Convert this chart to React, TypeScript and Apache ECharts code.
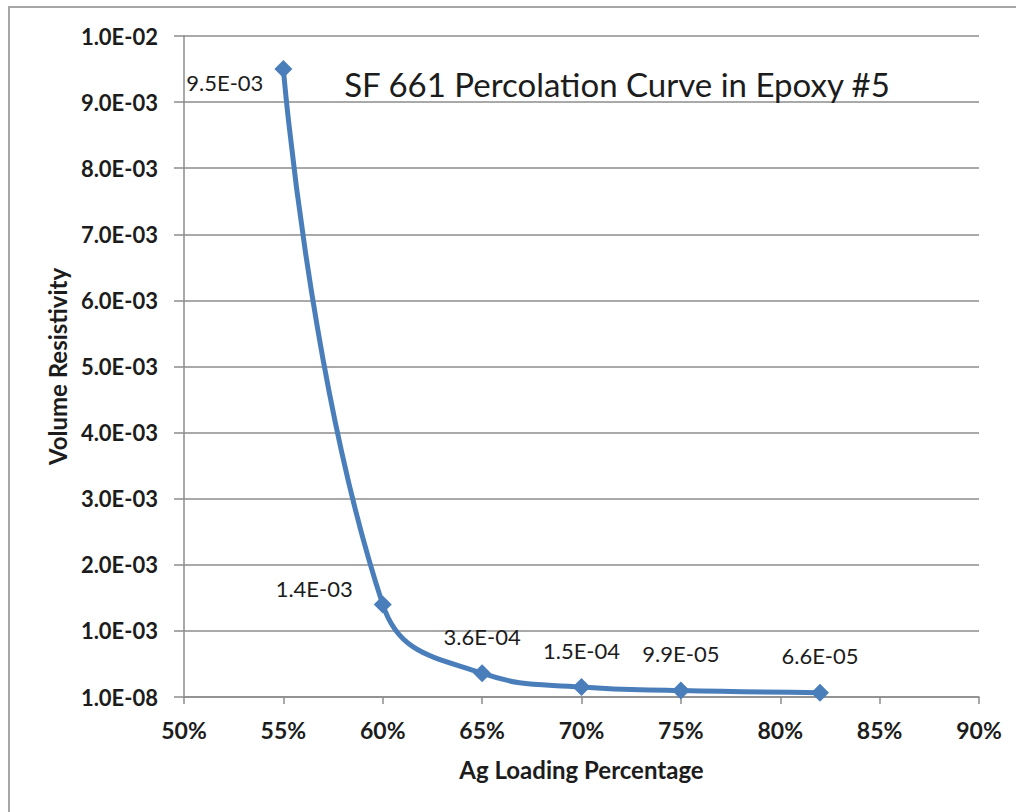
import React, { useEffect, useRef } from "react";
import * as echarts from "echarts";

const loadingPct = [55, 60, 65, 70, 75, 82];
const resistivity = [9.5e-3, 1.4e-3, 3.6e-4, 1.5e-4, 9.9e-5, 6.6e-5];
const pointLabels = ["9.5E-03", "1.4E-03", "3.6E-04", "1.5E-04", "9.9E-05", "6.6E-05"];
const yTickLabels = [
  "1.0E-08", "1.0E-03", "2.0E-03", "3.0E-03", "4.0E-03", "5.0E-03",
  "6.0E-03", "7.0E-03", "8.0E-03", "9.0E-03", "1.0E-02",
];
const titleText = "SF 661 Percolation Curve in Epoxy #5";
const xName = "Ag Loading Percentage";
const yName = "Volume Resistivity";

const FONT = "Lato, 'Open Sans', sans-serif";
const TXT = "#1c1c1c";

export default function App() {
  const ref = useRef<HTMLDivElement>(null);
  useEffect(() => {
    if (!ref.current) return;
    const chart = echarts.init(ref.current, null, { renderer: "svg" });
    const labelCfg = (i: number) => {
      if (i === 0) return { position: "left", distance: 11, offset: [0, 13] };
      if (i === 1) return { position: "left", distance: 21, offset: [0, -16] };
      return { position: "top", distance: 17 };
    };
    chart.setOption({
      animation: false,
      backgroundColor: "#fff",
      textStyle: { fontFamily: FONT },
      title: {
        text: titleText,
        left: 612,
        top: 62,
        textAlign: "center",
        textStyle: { fontFamily: FONT, fontSize: 33, fontWeight: "normal", color: TXT },
      },
      graphic: [
        {
          type: "polyline",
          shape: { points: [[9, 900], [9, 7], [1100, 7]] },
          style: { stroke: "#a6a6a6", lineWidth: 2, fill: "none" },
          silent: true,
        },
      ],
      grid: { left: 184, top: 36, right: 37, bottom: 115, containLabel: false },
      xAxis: {
        type: "value",
        min: 50,
        max: 90,
        interval: 5,
        name: xName,
        nameLocation: "middle",
        nameGap: 60,
        nameTextStyle: { fontFamily: FONT, fontSize: 24, fontWeight: "bold", color: TXT },
        axisLine: { show: true, lineStyle: { color: "#8c8c8c", width: 1.5 } },
        axisTick: { show: true, length: 7, inside: false, lineStyle: { color: "#8c8c8c", width: 1.5 } },
        axisLabel: {
          formatter: (v: number) => `${v}%`,
          fontFamily: FONT,
          fontSize: 23,
          fontWeight: "bold",
          color: TXT,
          margin: 21,
        },
        splitLine: { show: false },
      },
      yAxis: {
        type: "value",
        min: 0,
        max: 0.01,
        interval: 0.001,
        name: yName,
        nameLocation: "middle",
        nameGap: 114,
        nameTextStyle: { fontFamily: FONT, fontSize: 24, fontWeight: "bold", color: TXT },
        axisLine: { show: true, lineStyle: { color: "#8c8c8c", width: 1.5 } },
        axisTick: { show: true, length: 10, lineStyle: { color: "#8c8c8c", width: 1.5 } },
        axisLabel: {
          formatter: (v: number) => yTickLabels[Math.round(v / 0.001)] ?? "",
          fontFamily: FONT,
          fontSize: 22,
          fontWeight: "bold",
          color: TXT,
          margin: 26,
        },
        splitLine: { show: true, lineStyle: { color: "#8c8c8c", width: 1.5 } },
      },
      series: [
        {
          type: "line",
          smooth: 0.45,
          symbol: "diamond",
          symbolSize: 18,
          lineStyle: { color: "#4a7ebb", width: 5 },
          itemStyle: { color: "#4a7ebb" },
          data: loadingPct.map((x, i) => ({
            value: [x, resistivity[i]],
            label: {
              show: true,
              formatter: pointLabels[i],
              fontFamily: FONT,
              fontSize: 22,
              color: TXT,
              ...labelCfg(i),
            },
          })),
        },
      ],
    });
    return () => chart.dispose();
  }, []);
  return (
    <div
      ref={ref}
      style={{ position: "fixed", left: 0, top: 0, width: 1016, height: 812 }}
    />
  );
}
